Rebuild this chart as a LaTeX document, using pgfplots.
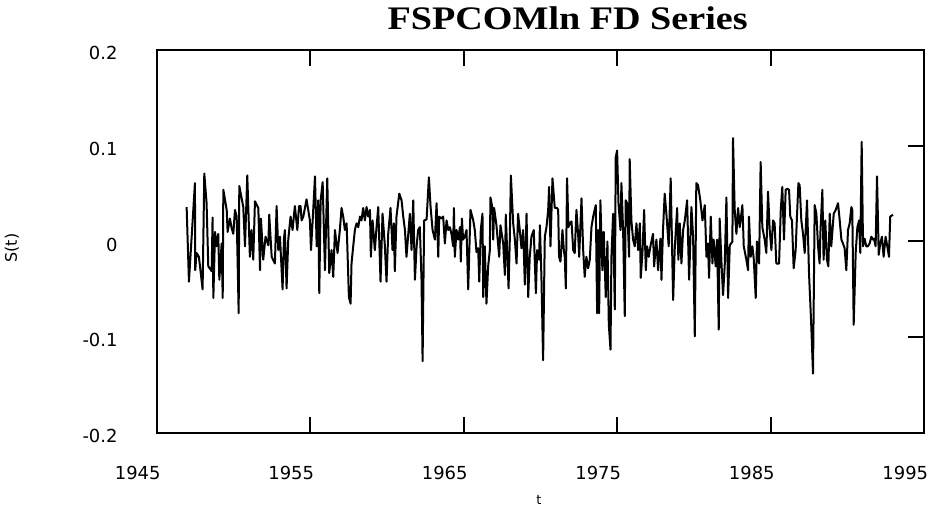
\documentclass[border=0pt]{standalone}
\usepackage{fontspec}
\setmainfont{DejaVu Sans}
\newfontfamily\titlefont[FakeStretch=1.16]{Liberation Serif}
\usepackage{pgfplots}
\pgfplotsset{compat=1.18}

\begin{document}
\begin{tikzpicture}
\useasboundingbox (-156.7bp,-77bp) rectangle (774.3bp,433bp);
\begin{axis}[
  at={(0,0)}, anchor=south west,
  scale only axis, width=767.6bp, height=383bp,
  xmin=1945, xmax=1995, ymin=-0.2, ymax=0.2,
  axis line style={line width=2bp},
  tick align=inside, major tick length=16bp,
  tick style={line width=2bp, black},
  xtick={1945,1955,1965,1975,1985,1995},
  xticklabels={1945,1955,1965,1975,1985,1995},
  ytick={-0.2,-0.1,0,0.1,0.2},
  yticklabels={-0.2,-0.1,0,0.1,0.2},
  xtick pos=both,
  ytick pos=right, yticklabel pos=left,
  ticklabel style={font=\fontsize{18}{20}\selectfont, inner sep=0pt},
  xticklabel style={anchor=north east, xshift=4bp, yshift=-33bp},
  yticklabel style={anchor=east, xshift=-39bp, yshift=-3bp},
]
\addplot[black, line width=2bp, line join=round] coordinates {
(1946.95,0.036)(1947.10,-0.042)(1947.49,0.061)(1947.51,-0.030)(1947.60,-0.012)(1947.75,-0.016)(1947.99,-0.050)(1948.10,0.071)(1948.25,0.040)(1948.36,-0.026)(1948.58,-0.031)(1948.64,0.025)(1948.69,-0.059)(1948.80,0.010)(1948.90,-0.005)(1949.01,0.008)(1949.08,-0.040)(1949.23,-0.002)(1949.30,-0.059)(1949.34,0.054)(1949.56,0.033)(1949.62,0.010)(1949.77,0.024)(1949.88,0.014)(1949.99,0.008)(1950.10,0.033)(1950.21,0.026)(1950.34,-0.075)(1950.38,0.058)(1950.64,0.036)(1950.75,-0.005)(1950.90,0.069)(1951.07,-0.016)(1951.18,0.012)(1951.29,-0.019)(1951.40,0.042)(1951.62,0.035)(1951.73,-0.030)(1951.79,0.024)(1951.94,-0.019)(1952.09,0.005)(1952.27,-0.004)(1952.33,0.028)
(1952.49,-0.016)(1952.70,-0.023)(1952.81,0.037)(1952.92,-0.009)(1953.03,0.005)(1953.20,-0.050)(1953.29,0.003)(1953.35,0.012)(1953.46,-0.049)(1953.57,0.002)(1953.72,0.026)(1953.85,0.012)(1954.00,0.037)(1954.16,0.012)(1954.27,0.037)(1954.37,0.037)(1954.44,0.022)(1954.55,0.026)(1954.76,0.044)(1954.98,0.022)(1955.05,-0.009)(1955.16,0.022)(1955.31,0.068)(1955.42,-0.005)(1955.52,0.043)(1955.59,-0.054)(1955.68,0.043)(1955.81,0.062)(1955.96,-0.030)(1956.11,0.066)(1956.24,-0.033)(1956.39,-0.009)(1956.50,-0.037)(1956.61,0.012)(1956.78,-0.012)(1956.93,0.012)(1957.04,0.035)(1957.15,0.026)(1957.26,0.012)(1957.37,0.019)(1957.52,-0.058)(1957.63,-0.065)(1957.69,-0.023)(1957.80,-0.005)(1957.91,0.012)(1958.02,0.019)(1958.13,0.015)
(1958.24,0.026)(1958.34,0.022)(1958.45,0.035)(1958.56,0.022)(1958.67,0.036)(1958.78,0.026)(1958.89,0.033)(1958.95,-0.016)(1959.06,0.022)(1959.21,-0.009)(1959.32,0.015)(1959.43,0.036)(1959.58,-0.042)(1959.71,0.029)(1959.86,-0.004)(1959.97,-0.042)(1960.08,0.008)(1960.23,0.035)(1960.36,-0.009)(1960.45,0.019)(1960.51,-0.031)(1960.62,0.026)(1960.80,0.050)(1960.95,0.043)(1961.06,0.026)(1961.17,0.012)(1961.27,-0.016)(1961.49,0.029)(1961.60,-0.009)(1961.71,0.043)(1961.82,-0.040)(1961.93,-0.005)(1962.03,0.012)(1962.14,0.015)(1962.25,-0.040)(1962.32,-0.125)(1962.42,0.022)(1962.58,0.023)(1962.73,0.067)(1962.84,0.036)(1962.97,0.012)(1963.12,0.002)(1963.23,0.040)(1963.34,-0.016)(1963.40,0.026)(1963.55,0.024)(1963.66,0.026)(1963.77,-0.002)(1963.88,0.022)(1963.99,0.012)(1964.10,0.015)
(1964.20,0.008)(1964.31,-0.005)(1964.36,0.035)(1964.42,-0.016)(1964.53,0.012)(1964.64,0.002)(1964.75,0.015)(1964.81,-0.021)(1964.88,0.024)(1964.96,0.002)(1965.07,0.005)(1965.18,0.012)(1965.29,-0.050)(1965.44,0.033)(1965.62,0.022)(1965.72,0.012)(1965.83,-0.011)(1965.94,-0.007)(1966.01,-0.042)(1966.11,0.012)(1966.22,0.029)(1966.27,-0.058)(1966.37,-0.005)(1966.48,-0.065)(1966.59,-0.026)(1966.70,-0.009)(1966.74,0.046)(1966.87,0.035)(1966.92,0.002)(1966.98,0.035)(1967.13,0.017)(1967.31,-0.016)(1967.39,0.017)(1967.57,-0.002)(1967.68,-0.035)(1967.74,0.028)(1967.92,-0.049)(1968.00,0.002)(1968.07,0.069)(1968.22,0.019)(1968.33,0.002)(1968.44,-0.023)(1968.54,0.029)(1968.65,0.012)(1968.76,-0.007)(1968.87,0.012)(1968.98,-0.045)(1969.09,0.029)(1969.20,-0.058)(1969.30,-0.016)(1969.41,0.005)(1969.56,0.012)(1969.70,-0.054)(1969.78,-0.009)(1969.91,-0.019)
(1969.96,0.017)(1970.06,-0.037)(1970.17,-0.124)(1970.28,0.005)(1970.39,0.015)(1970.50,0.033)(1970.56,0.057)(1970.65,-0.005)(1970.78,0.066)(1970.93,0.035)(1971.08,0.035)(1971.15,0.033)(1971.21,-0.016)(1971.30,-0.021)(1971.43,0.012)(1971.52,-0.009)(1971.58,-0.016)(1971.65,-0.049)(1971.73,0.066)(1971.82,0.015)(1971.91,0.019)(1972.02,0.021)(1972.13,-0.009)(1972.23,-0.012)(1972.34,0.033)(1972.45,0.008)(1972.52,-0.016)(1972.67,0.045)(1972.78,-0.009)(1972.88,-0.037)(1972.99,-0.016)(1973.10,-0.028)(1973.21,-0.019)(1973.32,0.015)(1973.43,0.026)(1973.60,0.038)(1973.69,-0.075)(1973.75,0.012)(1973.82,-0.075)(1973.90,0.043)(1974.03,-0.030)(1974.12,0.010)(1974.25,-0.058)(1974.36,0.000)(1974.45,-0.087)(1974.56,-0.113)(1974.62,-0.016)(1974.73,0.029)(1974.84,-0.071)(1974.90,0.088)(1974.99,0.095)(1975.08,0.040)(1975.21,0.012)(1975.27,0.061)(1975.38,0.012)(1975.49,-0.078)(1975.55,0.043)(1975.64,0.040)(1975.77,-0.016)
(1975.81,0.086)(1975.92,0.022)(1976.03,0.002)(1976.14,-0.005)(1976.25,0.019)(1976.36,-0.009)(1976.47,0.019)(1976.53,-0.038)(1976.64,-0.012)(1976.75,0.033)(1976.86,-0.030)(1976.94,-0.005)(1977.05,-0.016)(1977.16,-0.005)(1977.33,0.008)(1977.40,-0.026)(1977.55,0.002)(1977.66,-0.030)(1977.81,0.003)(1977.88,-0.040)(1977.98,0.012)(1978.09,0.050)(1978.20,0.029)(1978.35,-0.005)(1978.48,0.066)(1978.64,-0.061)(1978.74,-0.009)(1978.90,0.035)(1978.98,-0.019)(1979.07,0.019)(1979.18,-0.023)(1979.29,0.012)(1979.40,0.022)(1979.55,0.043)(1979.68,-0.040)(1979.83,0.036)(1979.94,0.005)(1980.05,-0.099)(1980.15,0.061)(1980.26,0.059)(1980.41,0.043)(1980.55,0.022)(1980.70,0.038)(1980.81,-0.016)(1980.91,-0.002)(1980.98,-0.038)(1981.09,0.026)(1981.20,-0.023)(1981.28,0.002)(1981.41,-0.026)(1981.50,0.002)(1981.61,-0.092)
(1981.67,0.024)(1981.78,-0.019)(1981.89,-0.056)(1982.00,-0.025)(1982.11,0.046)(1982.22,-0.059)(1982.33,-0.004)(1982.50,0.000)(1982.54,0.108)(1982.65,0.033)(1982.76,0.008)(1982.87,0.035)(1982.98,0.015)(1983.15,0.038)(1983.24,-0.005)(1983.41,-0.019)(1983.52,-0.030)(1983.58,0.026)(1983.69,-0.016)(1983.80,-0.005)(1983.89,-0.018)(1984.02,-0.059)(1984.10,0.000)(1984.24,-0.023)(1984.34,0.083)(1984.45,0.015)(1984.60,0.002)(1984.71,-0.012)(1984.82,0.052)(1984.93,0.012)(1985.04,-0.009)(1985.15,0.022)(1985.25,0.019)(1985.36,-0.023)(1985.54,-0.023)(1985.65,0.033)(1985.75,0.057)(1985.86,0.002)(1985.97,0.054)(1986.08,0.055)(1986.19,0.054)(1986.27,0.026)(1986.38,0.022)(1986.49,-0.028)(1986.62,-0.009)(1986.71,0.028)(1986.80,0.061)(1986.88,0.059)(1986.99,0.022)(1987.10,0.008)(1987.21,-0.012)(1987.36,0.043)(1987.49,-0.033)
(1987.64,-0.089)(1987.75,-0.138)(1987.86,0.038)(1987.97,0.029)(1988.08,-0.005)(1988.18,-0.023)(1988.23,0.008)(1988.36,0.054)(1988.44,-0.019)(1988.55,0.022)(1988.66,-0.019)(1988.75,-0.026)(1988.84,0.029)(1988.94,-0.005)(1989.10,0.029)(1989.23,0.033)(1989.38,0.040)(1989.49,0.022)(1989.60,0.002)(1989.70,-0.002)(1989.81,-0.007)(1989.92,-0.030)(1990.03,0.012)(1990.14,0.019)(1990.25,0.036)(1990.31,0.033)(1990.40,-0.087)(1990.53,-0.012)(1990.64,0.015)(1990.75,0.022)(1990.83,-0.012)(1990.92,0.104)(1991.01,-0.005)(1991.11,0.003)(1991.22,-0.005)(1991.33,-0.005)(1991.44,-0.002)(1991.55,0.005)(1991.66,0.002)(1991.72,0.003)(1991.83,-0.005)(1991.92,0.068)(1992.03,-0.014)(1992.13,-0.002)(1992.24,0.005)(1992.35,-0.016)(1992.48,0.005)(1992.59,-0.005)(1992.70,-0.016)(1992.78,0.026)(1992.96,0.028)
};
\end{axis}
\node[anchor=base west, inner sep=0pt, font=\titlefont\bfseries\fontsize{33}{36}\selectfont] at (230.6bp,403bp) {FSPCOMln FD Series};
\node[rotate=90, inner sep=0pt, font=\fontsize{16}{18}\selectfont] at (-144.7bp,185bp) {S(t)};
\node[inner sep=0pt, font=\fontsize{13}{15}\selectfont] at (382.3bp,-67bp) {t};
\end{tikzpicture}
\end{document}
